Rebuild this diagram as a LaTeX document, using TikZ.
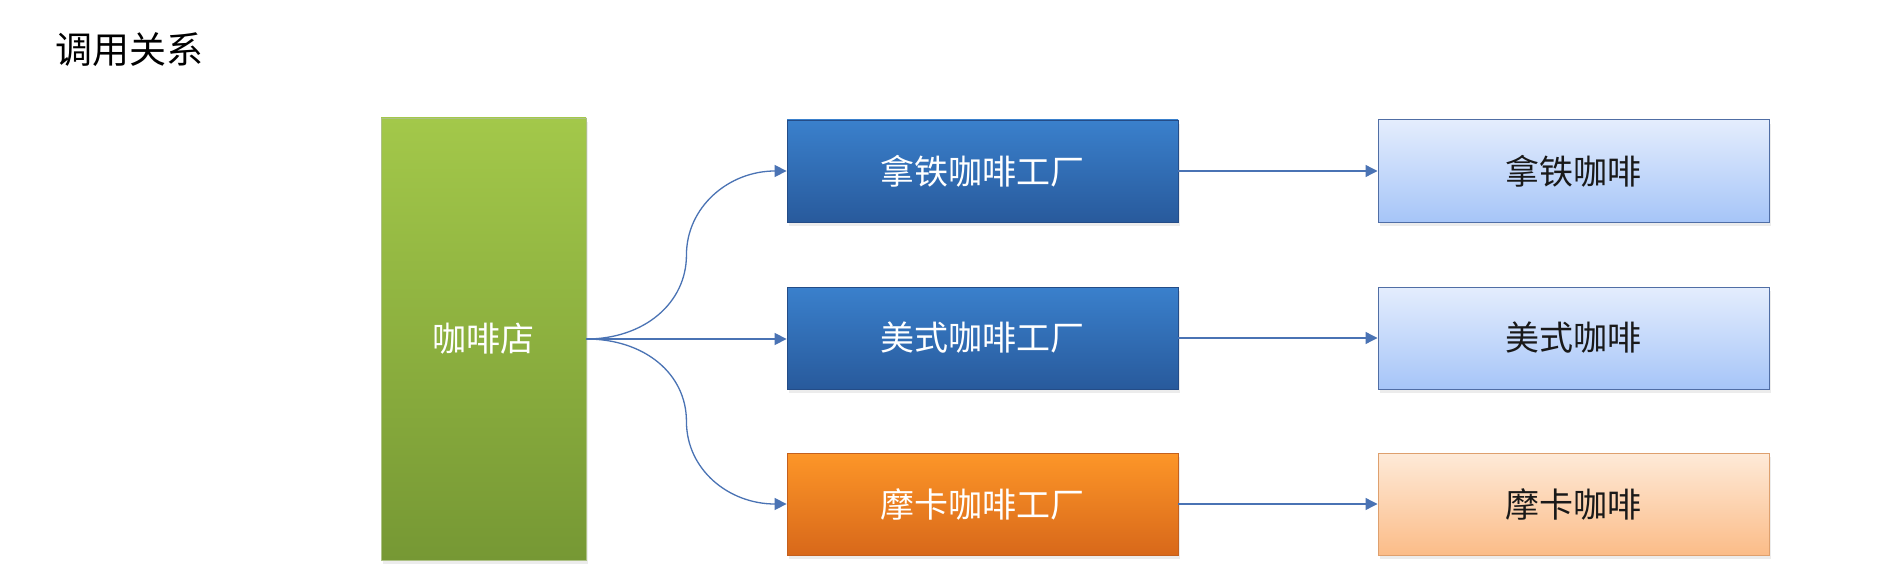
\documentclass[tikz,border=0pt]{standalone}
\usepackage{fontspec}
\setmainfont{Noto Sans CJK SC}
\usetikzlibrary{arrows.meta,shadows,calc}
\definecolor{linkc}{RGB}{74,115,180}
\definecolor{grtop}{RGB}{163,200,74}
\definecolor{grbot}{RGB}{118,152,52}
\definecolor{bltop}{RGB}{58,128,204}
\definecolor{blbot}{RGB}{40,90,156}
\definecolor{blbord}{RGB}{36,76,135}
\definecolor{ortop}{RGB}{253,150,40}
\definecolor{orbot}{RGB}{216,104,26}
\definecolor{orbord}{RGB}{196,96,30}
\definecolor{lbtop}{RGB}{228,237,253}
\definecolor{lbbot}{RGB}{166,197,248}
\definecolor{lbbord}{RGB}{80,110,165}
\definecolor{lotop}{RGB}{254,234,216}
\definecolor{lobot}{RGB}{251,188,136}
\definecolor{lobord}{RGB}{222,160,110}
\tikzset{
  boxbase/.style={rectangle, inner sep=0pt, font=\fontsize{34}{40}\selectfont,
    drop shadow={opacity=0.15, shadow xshift=2pt, shadow yshift=-4pt}},
  shopbox/.style={boxbase, top color=grtop, bottom color=grbot, draw=grbot!60, line width=0.6pt,
    text=white, minimum width=205pt, minimum height=442pt},
  factbox/.style={boxbase, top color=bltop, bottom color=blbot, draw=blbord, line width=0.8pt,
    text=white, minimum width=391pt, minimum height=102pt},
  ofactbox/.style={boxbase, top color=ortop, bottom color=orbot, draw=orbord, line width=0.8pt,
    text=white, minimum width=391pt, minimum height=102pt},
  prodbox/.style={boxbase, top color=lbtop, bottom color=lbbot, draw=lbbord, line width=1pt,
    text=black!90, minimum width=391pt, minimum height=102pt},
  oprodbox/.style={boxbase, top color=lotop, bottom color=lobot, draw=lobord, line width=1pt,
    text=black!90, minimum width=391pt, minimum height=102pt},
  link/.style={draw=linkc, line width=1.3pt, -{Triangle[length=12pt,width=12pt,fill=linkc]}},
}
\begin{document}
\begin{tikzpicture}[x=1pt,y=-1pt]
\path[use as bounding box, fill=white] (0,0) rectangle (1882,575);
\node[font=\fontsize{37}{44}\selectfont, anchor=west] (title) at (52,50) {调用关系};
\node[shopbox] (shop) at (483.5,339) {咖啡店};
\node[factbox] (f1) at (982.5,171) {拿铁咖啡工厂};
\node[factbox] (f2) at (982.5,338) {美式咖啡工厂};
\node[ofactbox] (f3) at (982.5,504) {摩卡咖啡工厂};
\node[prodbox] (p1) at (1573.5,171) {拿铁咖啡};
\node[prodbox] (p2) at (1573.5,338) {美式咖啡};
\node[oprodbox] (p3) at (1573.5,504) {摩卡咖啡};
\coordinate (m1) at ($(shop.east)!0.5!(f1.west)$);
\coordinate (m3) at ($(shop.east)!0.5!(f3.west)$);
\draw[link] (shop.east) .. controls +(58,0) and +(0,48) .. (m1) .. controls +(0,-48) and +(-58,0) .. (f1.west);
\draw[link] (shop.east) -- (f2.west |- shop.east);
\draw[link] (shop.east) .. controls +(58,0) and +(0,-48) .. (m3) .. controls +(0,48) and +(-58,0) .. (f3.west);
\draw[link] (f1.east) -- (p1.west);
\draw[link] (f2.east) -- (p2.west);
\draw[link] (f3.east) -- (p3.west);
\end{tikzpicture}
\end{document}
